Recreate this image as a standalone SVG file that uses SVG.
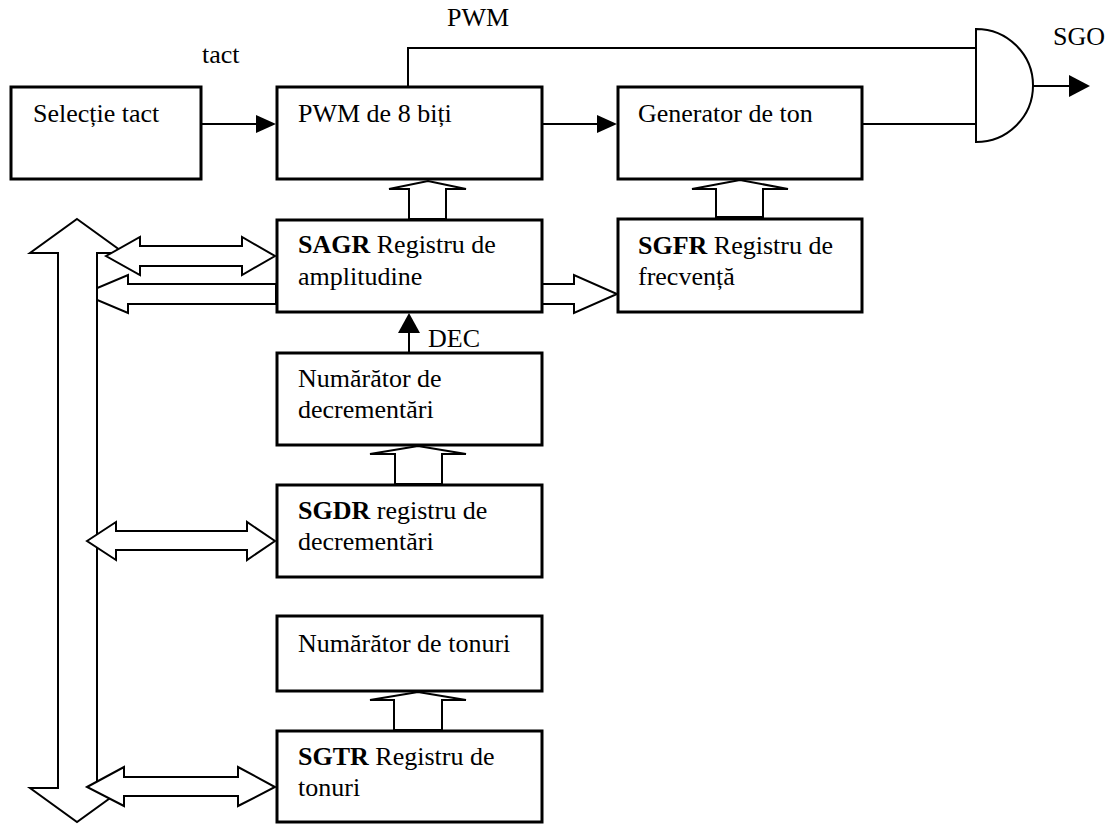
<svg xmlns="http://www.w3.org/2000/svg" width="1110" height="824" viewBox="0 0 1110 824">
<style>
.box{fill:#fff;stroke:#000;stroke-width:3}
.t{font-family:"Liberation Serif","Times New Roman",serif;font-size:26px;fill:#000}
.b{font-weight:bold}
.ln{fill:none;stroke:#000;stroke-width:2}
.hol{fill:#fff;stroke:#000;stroke-width:2;stroke-linejoin:miter}
.head{fill:#000;stroke:none}
</style>
<rect width="1110" height="824" fill="#fff"/>
<g id="connectors">
  <line class="ln" x1="202" y1="124" x2="258" y2="124"/>
  <polygon class="head" points="256,115 276,124 256,133"/>
  <line class="ln" x1="543" y1="124" x2="599" y2="124"/>
  <polygon class="head" points="597,115 617,124 597,133"/>
  <polyline class="ln" points="408,86 408,48 977,48"/>
  <line class="ln" x1="862" y1="124" x2="977" y2="124"/>
  <line class="ln" x1="1033" y1="86" x2="1071" y2="86"/>
  <polygon class="head" points="1069,75 1090,86 1069,97"/>
  <line class="ln" x1="409" y1="352" x2="409" y2="331"/>
  <polygon class="head" points="398,333 409,313 420,333"/>
  <polygon class="hol" points="409,219 409,189 389,189 428,181 466,189 446,189 446,219"/>
  <polygon class="hol" points="716,217 716,189 692,189 740,180 788,189 763,189 763,217"/>
  <polygon class="hol" points="395,484 395,454 370,454 418,446 466,454 442,454 442,484"/>
  <polygon class="hol" points="394,730 394,700 370,700 418,692 466,700 442,700 442,730"/>
  <polygon class="hol" points="542,284 574,284 574,275 617,294 574,313 574,304 542,304"/>
  <polygon class="hol" points="276,284 128,284 128,275 83,294 128,313 128,304 276,304"/>
  <polygon class="hol" points="77,219 124,253 97,253 97,788 124,788 77,822 30,788 58,788 58,253 30,253"/>
  <polygon class="hol" points="106,256 140,237 140,246 242,246 242,237 275,256 242,275 242,266 140,266 140,275"/>
  <polygon class="hol" points="87,541 116,522 116,531 247,531 247,522 275,541 247,560 247,550 116,550 116,560"/>
  <polygon class="hol" points="87,787 124,767 124,777 238,777 238,767 275,787 238,806 238,796 124,796 124,806"/>
</g>
<g id="gate">
  <path class="ln" d="M976,29 L976,142 A57,56.5 0 0 0 976,29 Z"/>
</g>
<g id="labels">
  <text class="t" x="202" y="63">tact</text>
  <text class="t" x="447" y="26">PWM</text>
  <text class="t" x="1053" y="45">SGO</text>
  <text class="t" x="428" y="347">DEC</text>
</g>
<g id="sel">
  <rect class="box" x="11" y="87" width="190" height="92"/>
  <text class="t" x="33" y="122">Selecție tact</text>
</g>
<g id="pwm">
  <rect class="box" x="277" y="87" width="265" height="92"/>
  <text class="t" x="298" y="122">PWM de 8 biți</text>
</g>
<g id="gen">
  <rect class="box" x="618" y="87" width="244" height="92"/>
  <text class="t" x="638" y="122">Generator de ton</text>
</g>
<g id="sagr">
  <rect class="box" x="277" y="220" width="265" height="92"/>
  <text class="t" x="298" y="253"><tspan class="b">SAGR</tspan> Registru de</text>
  <text class="t" x="298" y="285">amplitudine</text>
</g>
<g id="sgfr">
  <rect class="box" x="618" y="219" width="244" height="93"/>
  <text class="t" x="638" y="254"><tspan class="b">SGFR</tspan> Registru de</text>
  <text class="t" x="638" y="285">frecvență</text>
</g>
<g id="numdec">
  <rect class="box" x="277" y="353" width="265" height="92"/>
  <text class="t" x="298" y="387">Numărător de</text>
  <text class="t" x="298" y="418">decrementări</text>
</g>
<g id="sgdr">
  <rect class="box" x="277" y="485" width="265" height="92"/>
  <text class="t" x="298" y="519"><tspan class="b">SGDR</tspan> registru de</text>
  <text class="t" x="298" y="550">decrementări</text>
</g>
<g id="numton">
  <rect class="box" x="277" y="616" width="265" height="75"/>
  <text class="t" x="298" y="652">Numărător de tonuri</text>
</g>
<g id="sgtr">
  <rect class="box" x="277" y="731" width="265" height="91"/>
  <text class="t" x="298" y="765"><tspan class="b">SGTR</tspan> Registru de</text>
  <text class="t" x="298" y="796">tonuri</text>
</g>
</svg>
